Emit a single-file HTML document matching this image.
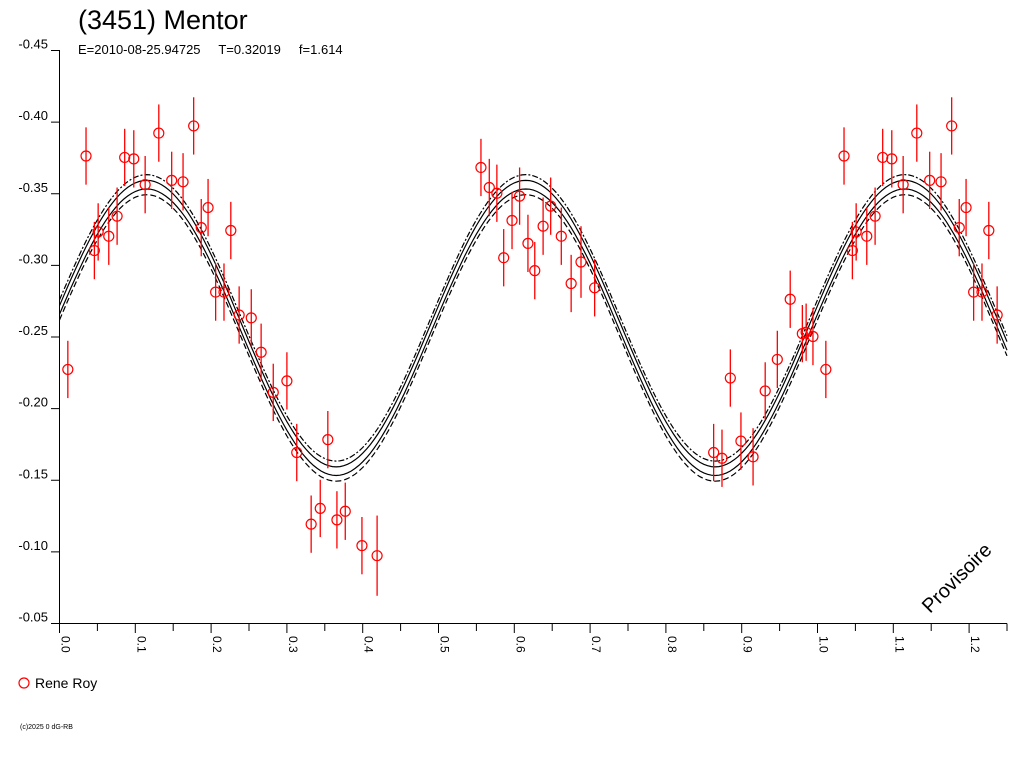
<!DOCTYPE html>
<html><head><meta charset="utf-8"><style>
html,body{margin:0;padding:0;background:#fff;}
svg{display:block;font-family:"Liberation Sans",Arial,sans-serif;}
</style></head><body>
<svg id="chart" width="1024" height="768" viewBox="0 0 1024 768">
<text x="78" y="29" font-size="27" fill="#000">(3451) Mentor</text>
<text x="78" y="54" font-size="13" fill="#000" style="white-space:pre" xml:space="preserve">E=2010-08-25.94725     T=0.32019     f=1.614</text>
<g id="axes"></g>
<g id="curves"></g>
<g id="points"></g>
<text x="0" y="0" font-size="20" transform="translate(930,614) rotate(-45)" fill="#000">Provisoire</text>
<circle cx="24" cy="683" r="5" fill="none" stroke="#f00" stroke-width="1.2"/>
<text x="35" y="688" font-size="14" fill="#000">Rene Roy</text>
<text x="20" y="729" font-size="7" fill="#000">(c)2025 0 dG-RB</text>
</svg>
<script>
const phases=[0.011,0.035,0.046,0.051,0.065,0.076,0.086,0.098,0.113,0.131,0.148,0.163,0.177,0.187,0.196,0.206,0.217,0.226,0.237,0.253,0.266,0.282,0.300,0.313,0.332,0.344,0.354,0.366,0.377,0.399,0.419,0.556,0.567,0.577,0.586,0.597,0.607,0.618,0.627,0.638,0.648,0.662,0.675,0.688,0.706,0.863,0.874,0.885,0.899,0.915,0.931,0.947,0.964,0.980,0.985,0.994];
const mags=[-0.227,-0.376,-0.310,-0.323,-0.320,-0.334,-0.375,-0.374,-0.356,-0.392,-0.359,-0.358,-0.397,-0.326,-0.340,-0.281,-0.281,-0.324,-0.265,-0.263,-0.239,-0.211,-0.219,-0.169,-0.119,-0.130,-0.178,-0.122,-0.128,-0.104,-0.097,-0.368,-0.354,-0.350,-0.305,-0.331,-0.348,-0.315,-0.296,-0.327,-0.341,-0.320,-0.287,-0.302,-0.284,-0.169,-0.165,-0.221,-0.177,-0.166,-0.212,-0.234,-0.276,-0.252,-0.253,-0.250];
const errs=[0.02,0.02,0.02,0.02,0.02,0.02,0.02,0.02,0.02,0.02,0.02,0.02,0.02,0.02,0.02,0.02,0.02,0.02,0.02,0.02,0.02,0.02,0.02,0.02,0.02,0.02,0.02,0.02,0.02,0.02,0.028,0.02,0.02,0.02,0.02,0.02,0.02,0.02,0.02,0.02,0.02,0.02,0.02,0.025,0.02,0.02,0.02,0.02,0.02,0.02,0.02,0.02,0.02,0.02,0.02,0.02];
const xTicks=["0.0","0.1","0.2","0.3","0.4","0.5","0.6","0.7","0.8","0.9","1.0","1.1","1.2"];
const yTicks=["-0.45","-0.40","-0.35","-0.30","-0.25","-0.20","-0.15","-0.10","-0.05"];
const fitMean=-0.256, fitAmp=0.1, fitPeak=0.115;

const NS="http://www.w3.org/2000/svg";
const X=p=>59.5+p*758;
const Y=v=>50+(v+0.45)*1432.5;
function mk(tag,attrs,parent){const e=document.createElementNS(NS,tag);for(const k in attrs)e.setAttribute(k,attrs[k]);parent.appendChild(e);return e;}
const axes=document.getElementById('axes');
let a=mk('line',{x1:59.5,y1:50,x2:59.5,y2:623.5,stroke:'#000','stroke-width':1},axes);


a=mk('line',{x1:59.5,y1:623.5,x2:1007,y2:623.5,stroke:'#000','stroke-width':1},axes);


yTicks.forEach(t=>{const y=Y(parseFloat(t))+0.5;
 mk('line',{x1:51,y1:y,x2:59.5,y2:y,stroke:'#000'},axes);
 const tx=mk('text',{x:48,y:y-2,'font-size':13,'text-anchor':'end',fill:'#000'},axes);tx.textContent=t;
 
 
});
for(let i=0;i<=25;i++){const x=X(i*0.05);const big=i%2==0;
 mk('line',{x1:x,y1:623.5,x2:x,y2:big?633:631,stroke:'#000'},axes);}
xTicks.forEach(t=>{const x=X(parseFloat(t));
 const tx=mk('text',{x:0,y:0,'font-size':12,fill:'#000',transform:`translate(${x+2},636) rotate(90)`},axes);tx.textContent=t;
 
 
});
const curves=document.getElementById('curves');
const offs=[[0.003,'none'],[-0.003,'none'],[0.007,'6,3'],[-0.007,'6,2,2,2']];
offs.forEach(([o,d])=>{let s='';for(let p=0;p<=1.25;p+=0.005){s+=(s?'L':'M')+X(p).toFixed(1)+','+Y(fitMean+o-fitAmp*Math.cos(4*Math.PI*(p-fitPeak))).toFixed(1);}
 const e=mk('path',{d:s,fill:'none',stroke:'#000','stroke-width':1.2,'stroke-dasharray':d},curves);
 
 
});
const pts=document.getElementById('points');
phases.forEach((p,i)=>{[p,p+1].forEach(pp=>{if(pp>1.25)return;
 const x=X(pp),y=Y(mags[i]);
 const g=mk('g',{},pts);
 
 
 mk('line',{x1:x,y1:Y(mags[i]-errs[i]),x2:x,y2:Y(mags[i]+errs[i]),stroke:'#f00','stroke-width':1.3},g);
 mk('circle',{cx:x,cy:y,r:5,fill:'none',stroke:'#f00','stroke-width':1.2},g);
});});
</script>
</body></html>
